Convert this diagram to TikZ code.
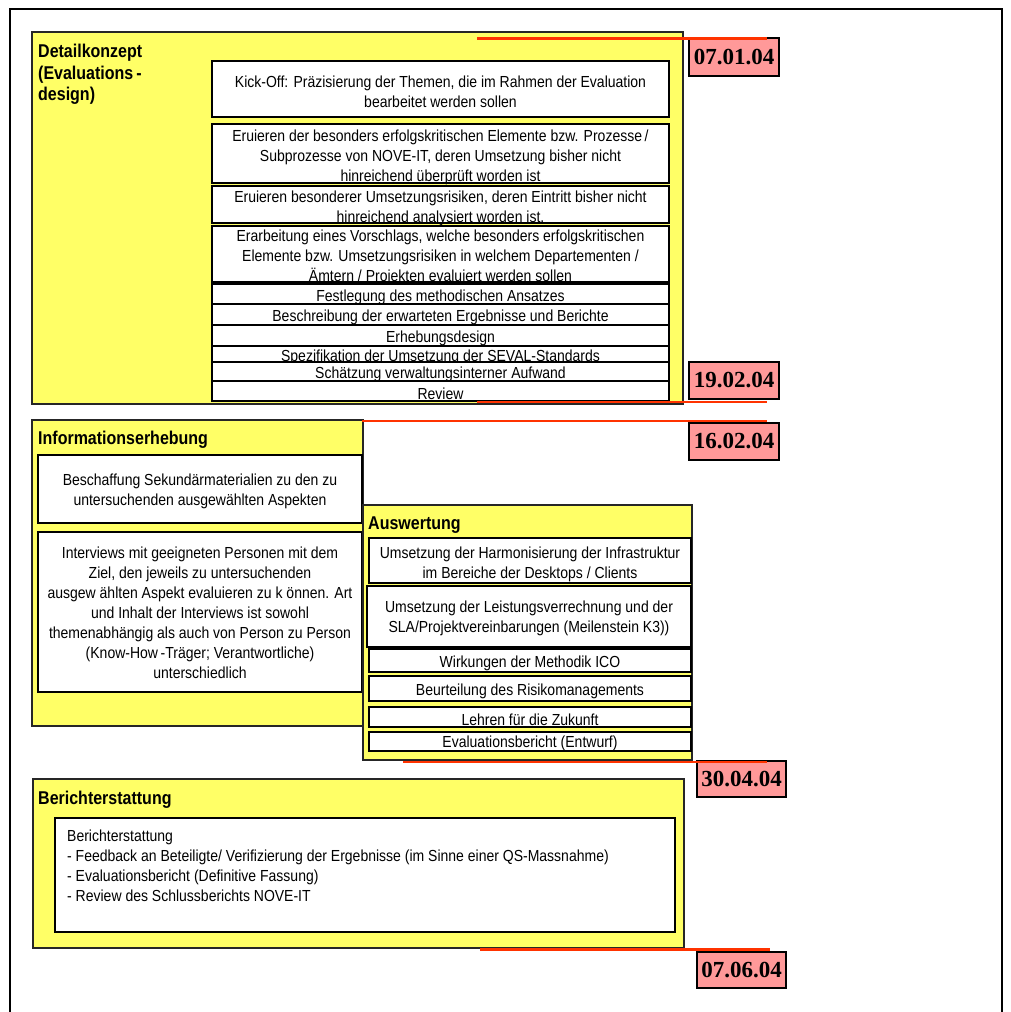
\documentclass[tikz,border=0pt]{standalone}
\usepackage{fontspec}
\setmainfont{Liberation Sans}
\newfontfamily\bodyfont[FakeStretch=0.875]{Liberation Sans}
\newfontfamily\titlefont[FakeStretch=0.865]{Liberation Sans}
\newfontfamily\datefont{Liberation Serif}
\definecolor{yel}{RGB}{255,255,102}
\definecolor{pinkd}{RGB}{255,153,153}
\definecolor{redl}{RGB}{255,51,0}
\newcommand\bx[7]{\node[#1, minimum width={#5-#3}, minimum height={#6-#4}] (#2) at ({(#3+#5)/2},{(#4+#6)/2}) {#7};}
% white box with its text lowered by #7
\newcommand\wbx[7]{\node[wb, minimum width={#4-#2}, minimum height={#5-#3}] (#1) at ({(#2+#4)/2},{(#3+#5)/2}) {};
  \node[wbt, yshift=-#7pt] (#1t) at (#1.center) {#6};}
\begin{document}
\begin{tikzpicture}[x=1pt,y=-1pt,
  ybox/.style={draw=black!85, fill=yel, line width=1.2pt, inner sep=0pt},
  wb/.style={draw=black, fill=white, line width=1.2pt, inner sep=0pt},
  wbt/.style={inner sep=0pt, align=center, font=\bodyfont\fontsize{16}{20}\selectfont},
  ttl/.style={inner sep=0pt, align=left, font=\titlefont\fontsize{18.5}{21.5}\selectfont\bfseries},
  datebox/.style={draw=black, fill=pinkd, line width=1.2pt, inner sep=0pt, font=\datefont\bfseries\fontsize{23}{24}\selectfont},
  redline/.style={draw=redl, line width=2.5pt},
  frame/.style={draw=black, line width=2pt}]
\useasboundingbox (0,0) rectangle (1010,1012);
\fill[white] (0,0) rectangle (1010,1012);
\draw[frame] (10,1013) -- (10,9) -- (1002,9) -- (1002,1013);

% Detailkonzept
\bx{ybox}{detail}{32}{32}{683}{404}{}
\node[ttl, anchor=north west] (detailT) at (38,44) {Detailkonzept\\(Evaluations\,-\\design)};
\wbx{d1}{212}{61}{669}{117}{Kick-Off: Präzisierung der Themen, die im Rahmen der Evaluation\\bearbeitet werden sollen}{3}
\wbx{d2}{212}{124}{669}{183}{Eruieren der besonders erfolgskritischen Elemente bzw. Prozesse\,/\\Subprozesse von NOVE-IT, deren Umsetzung bisher nicht\\hinreichend überprüft worden ist}{4}
\wbx{d3}{212}{186}{669}{223}{Eruieren besonderer Umsetzungsrisiken, deren Eintritt bisher nicht\\hinreichend analysiert worden ist.}{4}
\wbx{d4}{212}{226}{669}{282}{Erarbeitung eines Vorschlags, welche besonders erfolgskritischen\\Elemente bzw. Umsetzungsrisiken in welchem Departementen /\\Ämtern / Projekten evaluiert werden sollen}{3}
\wbx{d5}{212}{284}{669}{304}{Festlegung des methodischen Ansatzes}{3}
\wbx{d6}{212}{304}{669}{325}{Beschreibung der erwarteten Ergebnisse und Berichte}{3}
\wbx{d7}{212}{325}{669}{346}{Erhebungsdesign}{3}
\wbx{d8}{212}{346}{669}{362}{Spezifikation der Umsetzung der SEVAL-Standards}{3}
\wbx{d9}{212}{362}{669}{381}{Schätzung verwaltungsinterner Aufwand}{3}
\wbx{d10}{212}{381}{669}{401}{Review}{3}

% Informationserhebung
\bx{ybox}{info}{32}{420}{363}{726}{}
\node[ttl, anchor=base west] (infoT) at (38,444) {Informationserhebung};
\wbx{i1}{38}{455}{362}{523}{Beschaffung Sekundärmaterialien zu den zu\\untersuchenden ausgewählten Aspekten}{2.5}
\wbx{i2}{38}{532}{362}{692}{Interviews mit geeigneten Personen mit dem\\Ziel, den jeweils zu untersuchenden\\ausgew ählten Aspekt evaluieren zu k önnen. Art\\und Inhalt der Interviews ist sowohl\\themenabhängig als auch von Person zu Person\\(Know-How\,-Träger; Verantwortliche)\\unterschiedlich}{1}

% Auswertung
\bx{ybox}{ausw}{363}{505}{692}{760}{}
\node[ttl, anchor=base west] (auswT) at (368,529) {Auswertung};
\wbx{a1}{369}{538}{691}{583}{Umsetzung der Harmonisierung der Infrastruktur\\im Bereiche der Desktops / Clients}{4}
\wbx{a2}{367}{586}{691}{647}{Umsetzung der Leistungsverrechnung und der\\SLA/Projektvereinbarungen (Meilenstein K3))}{1.5}
\wbx{a3}{369}{649}{691}{672}{Wirkungen der Methodik ICO}{2.5}
\wbx{a4}{369}{676}{691}{701}{Beurteilung des Risikomanagements}{3}
\wbx{a5}{369}{707}{691}{727}{Lehren für die Zukunft}{2.5}
\wbx{a6}{369}{732}{691}{751}{Evaluationsbericht (Entwurf)}{2}

% Berichterstattung
\bx{ybox}{ber}{33}{779}{684}{948}{}
\node[ttl, anchor=base west] (berT) at (38,804) {Berichterstattung};
\bx{wb}{b1}{55}{818}{675}{932}{}
\node[inner sep=0pt, anchor=north west, align=left, font=\bodyfont\fontsize{16}{20}\selectfont] (b1T) at (67,829.5) {Berichterstattung\\- Feedback an Beteiligte/ Verifizierung der Ergebnisse (im Sinne einer QS-Massnahme)\\- Evaluationsbericht (Definitive Fassung)\\- Review des Schlussberichts NOVE-IT};

% Dates
\bx{datebox}{t1}{689}{38}{779}{76}{07.01.04}
\bx{datebox}{t2}{689}{362}{779}{399}{19.02.04}
\bx{datebox}{t3}{689}{423}{779}{460}{16.02.04}
\bx{datebox}{t4}{697}{761}{786}{797}{30.04.04}
\bx{datebox}{t5}{697}{952}{786}{988}{07.06.04}

% milestone lines
\coordinate (r1a) at (477,38.5); \coordinate (r1b) at (767,38.5);
\coordinate (r2a) at (477,402); \coordinate (r2b) at (767,402);
\coordinate (r3a) at (362,421); \coordinate (r3b) at (767,421);
\coordinate (r4a) at (403,762); \coordinate (r4b) at (767,762);
\coordinate (r5a) at (480,949.5); \coordinate (r5b) at (770,949.5);
\draw[redline] (r1a) -- (r1b);
\draw[redline] (r2a) -- (r2b);
\draw[redline] (r3a) -- (r3b);
\draw[redline] (r4a) -- (r4b);
\draw[redline] (r5a) -- (r5b);
\end{tikzpicture}
\end{document}
